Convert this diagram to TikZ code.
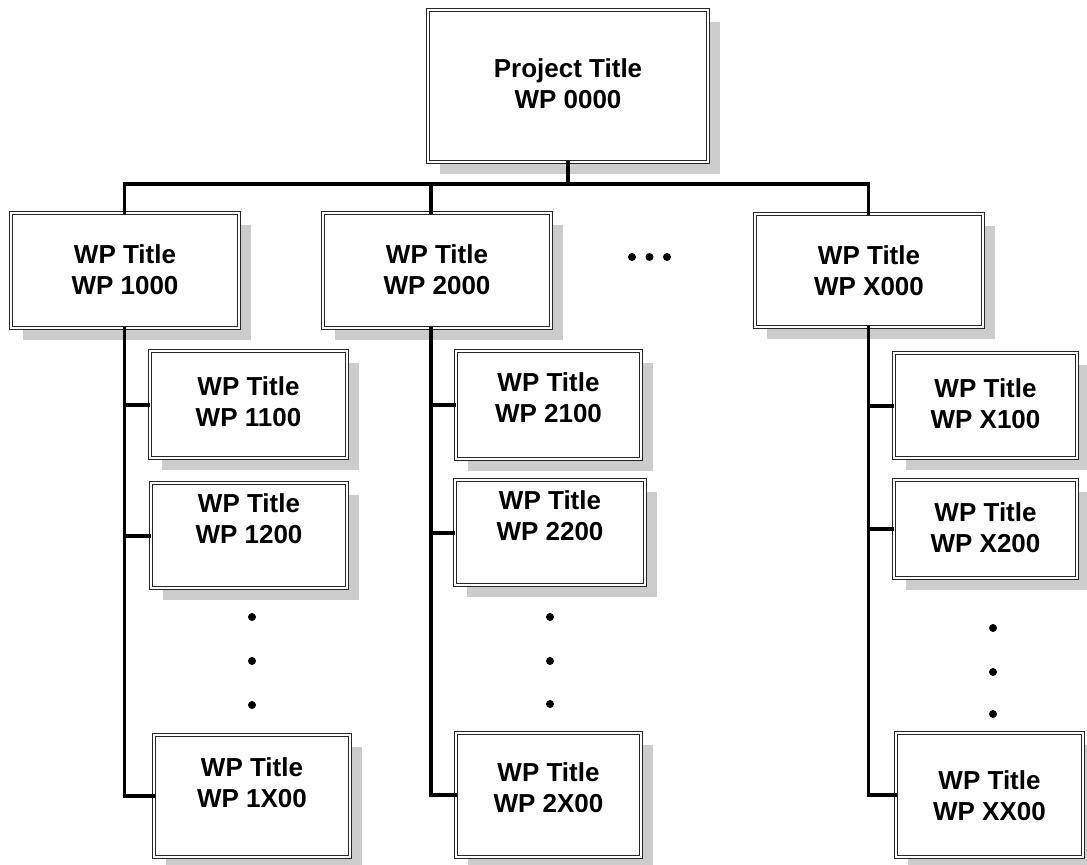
\documentclass[tikz,border=0pt]{standalone}
\usepackage{fontspec}
\setmainfont{Liberation Sans}
\usetikzlibrary{fit,shadows}
\begin{document}
\begin{tikzpicture}[x=0.75pt,y=-0.75pt,
  wpbox/.style={draw=black!85,line width=0.7pt,double=white,double distance=1.5pt,
    fill=white,inner sep=0pt,
    drop shadow={shadow xshift=9pt,shadow yshift=-9pt,fill=black!20,opacity=1}},
  wptext/.style={align=center,inner sep=0pt,font=\fontsize{19.5pt}{23.5pt}\selectfont\bfseries},
  conn/.style={line width=2.3pt,line cap=rect},
  stub/.style={line width=3pt},
  wpdot/.style={circle,fill=black,inner sep=0pt,minimum size=6pt}]
\useasboundingbox (0,0) rectangle (1087,864);

% boxes
\node[wpbox,fit={(428,10) (708,162)}] (p0000) {};
\node[wpbox,fit={(11,213) (239,328)}] (p1000) {};
\node[wpbox,fit={(323,213) (551,328)}] (p2000) {};
\node[wpbox,fit={(755,214) (983,327)}] (pX000) {};
\node[wpbox,fit={(150,351) (347,458)}] (p1100) {};
\node[wpbox,fit={(151,483) (347,588)}] (p1200) {};
\node[wpbox,fit={(154,735) (350,857)}] (p1X00) {};
\node[wpbox,fit={(456,351) (641,459)}] (p2100) {};
\node[wpbox,fit={(455,480) (645,585)}] (p2200) {};
\node[wpbox,fit={(456,733) (641,857)}] (p2X00) {};
\node[wpbox,fit={(894,353) (1077,458)}] (pX100) {};
\node[wpbox,fit={(894,480) (1077,578)}] (pX200) {};
\node[wpbox,fit={(896,733) (1083,857)}] (pXX00) {};

% texts
\node[wptext] (t0000) at (568,84) {Project Title\\WP 0000};
\node[wptext] (t1000) at (125,270) {WP Title\\WP 1000};
\node[wptext] (t2000) at (437,270) {WP Title\\WP 2000};
\node[wptext] (tX000) at (869,271) {WP Title\\WP X000};
\node[wptext] (t1100) at (248.5,401.5) {WP Title\\WP 1100};
\node[wptext] (t1200) at (249,519) {WP Title\\WP 1200};
\node[wptext] (t1X00) at (252,782.5) {WP Title\\WP 1X00};
\node[wptext] (t2100) at (548.5,397.5) {WP Title\\WP 2100};
\node[wptext] (t2200) at (550,516) {WP Title\\WP 2200};
\node[wptext] (t2X00) at (548.5,787.5) {WP Title\\WP 2X00};
\node[wptext] (tX100) at (985.5,404) {WP Title\\WP X100};
\node[wptext] (tX200) at (985.5,527.5) {WP Title\\WP X200};
\node[wptext] (tXX00) at (989.5,796) {WP Title\\WP XX00};

% connector helpers
\coordinate (bus) at (0,184);
\coordinate (c1) at (124.5,0);
\coordinate (c2) at (431,0);
\coordinate (c3) at (868.5,0);

% top bus
\draw[conn] (p0000.south) -- (p0000.south |- bus);
\draw[conn] (p1000.north -| c1) |- (bus -| c3) -- (pX000.north -| c3);
\draw[conn] (p2000.north -| c2) -- (bus -| c2);

% column 1
\draw[conn] (p1000.south -| c1) |- (p1X00.west);
\draw[stub] (p1100.west -| c1) -- (p1100.west);
\draw[stub] (p1200.west -| c1) -- (p1200.west);
% column 2
\draw[conn] (p2000.south -| c2) |- (p2X00.west);
\draw[stub] (p2100.west -| c2) -- (p2100.west);
\draw[stub] (p2200.west -| c2) -- (p2200.west);
% column 3
\draw[conn] (pX000.south -| c3) |- (pXX00.west);
\draw[stub] (pX100.west -| c3) -- (pX100.west);
\draw[stub] (pX200.west -| c3) -- (pX200.west);

% dots
\node[wpdot] (d11) at (252,617) {};
\node[wpdot] (d12) at (252,661) {};
\node[wpdot] (d13) at (252,705) {};
\node[wpdot] (d21) at (550,617) {};
\node[wpdot] (d22) at (550,661) {};
\node[wpdot] (d23) at (550,704) {};
\node[wpdot] (d31) at (993,628) {};
\node[wpdot] (d32) at (993,672) {};
\node[wpdot] (d33) at (993,714) {};
\node[wpdot] (h1) at (632,257) {};
\node[wpdot] (h2) at (649.5,257) {};
\node[wpdot] (h3) at (667,257) {};
\end{tikzpicture}
\end{document}
